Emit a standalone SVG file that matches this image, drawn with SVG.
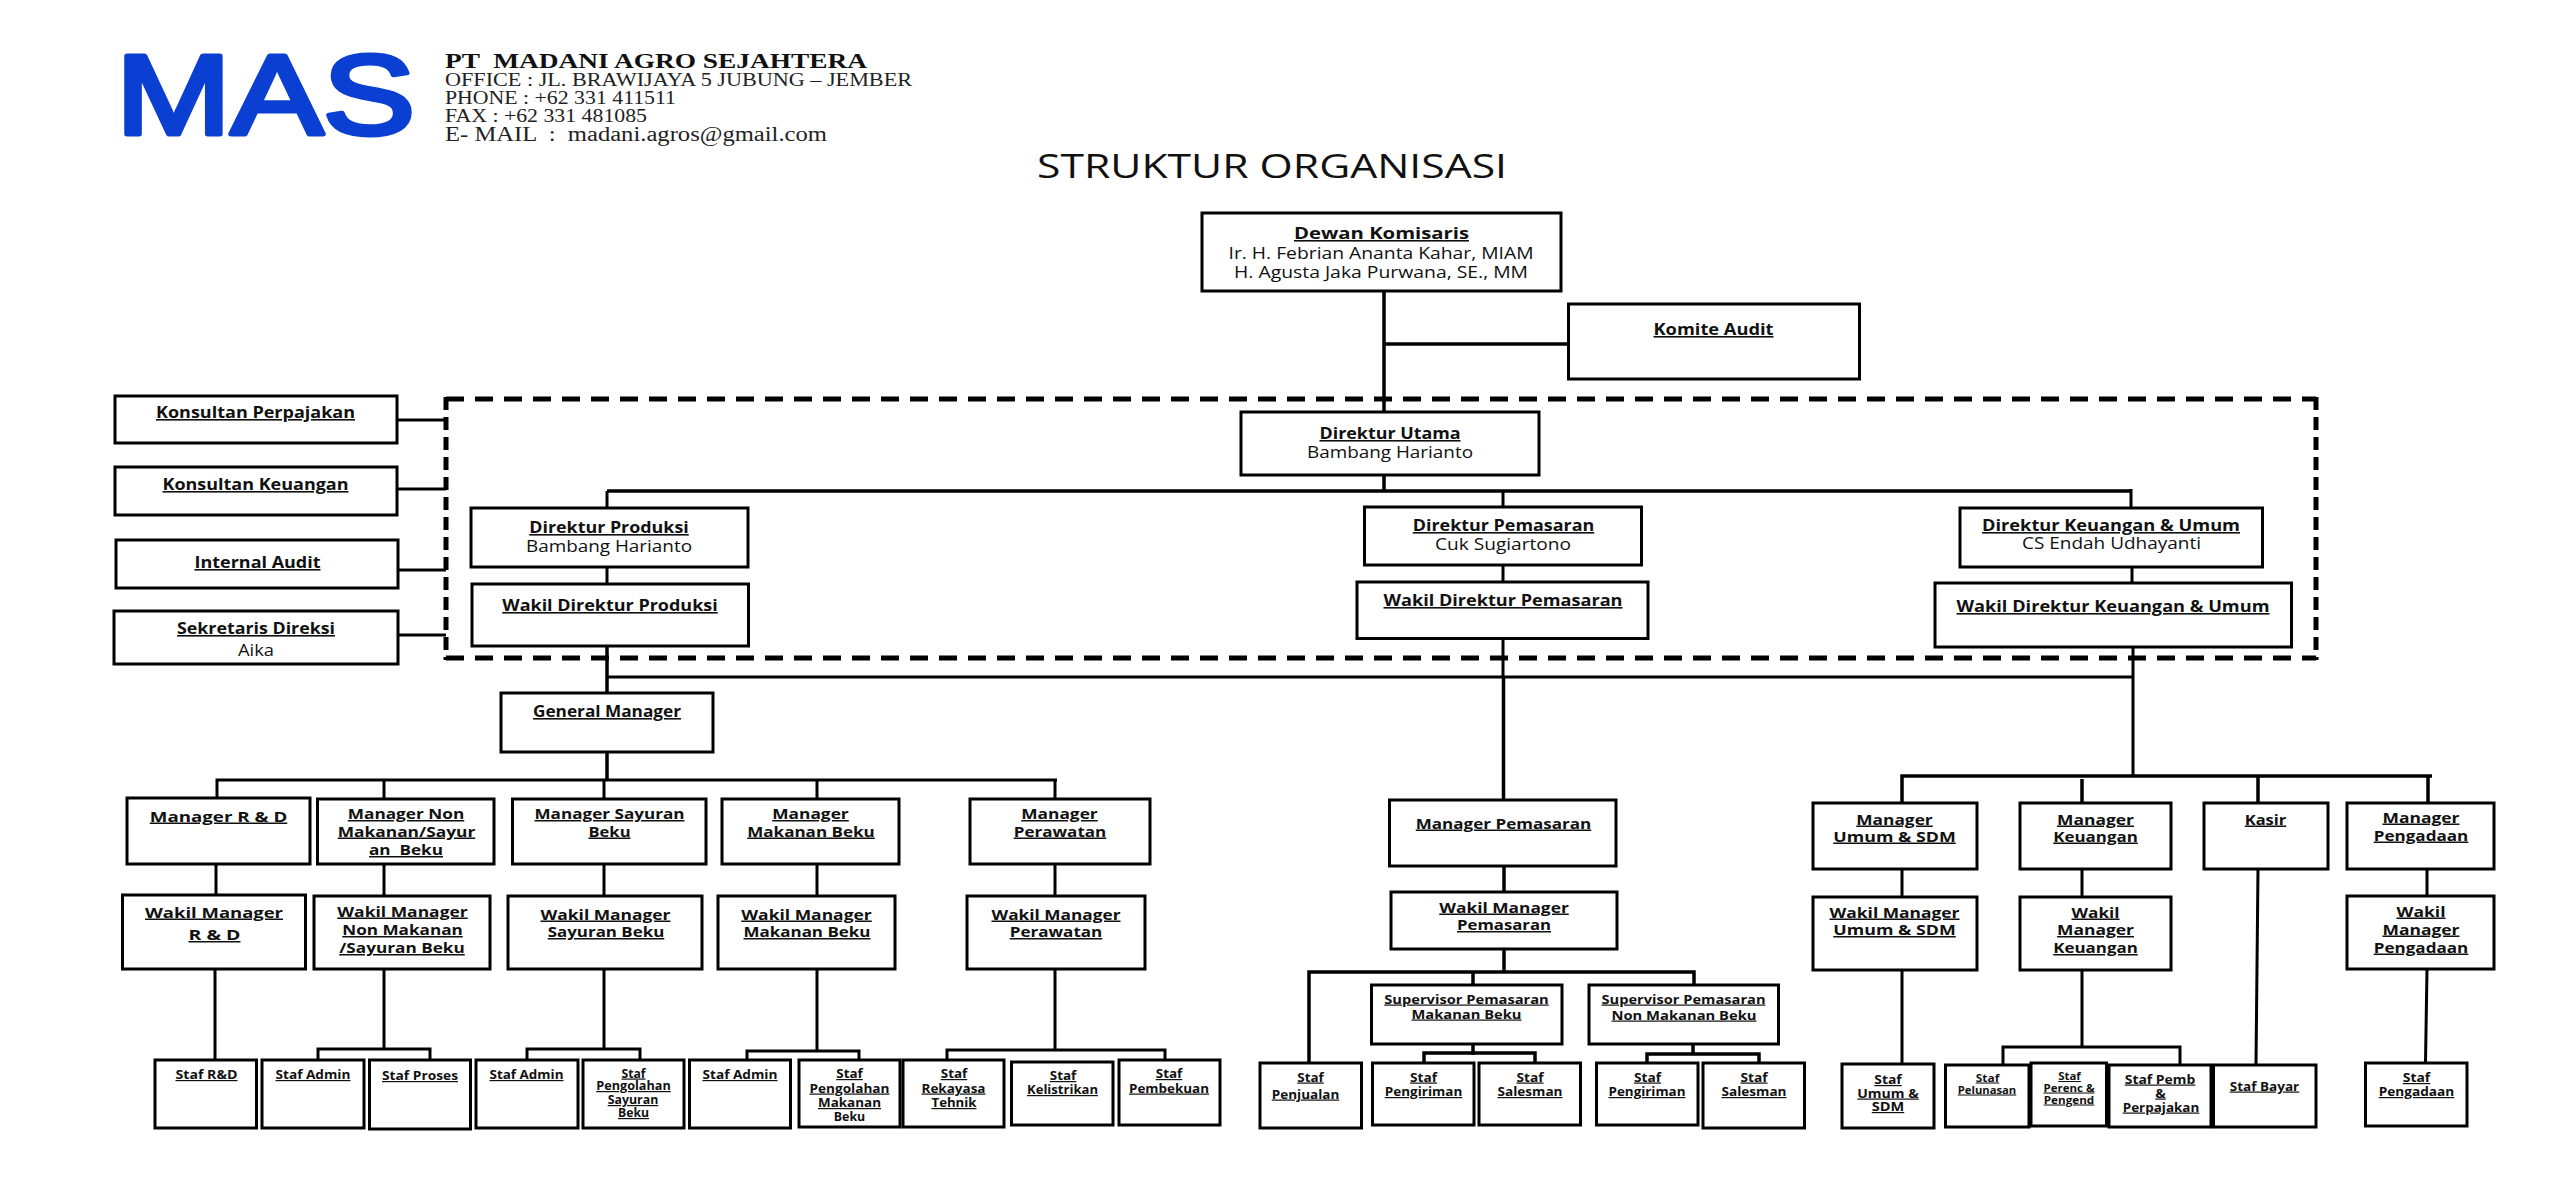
<svg xmlns="http://www.w3.org/2000/svg" width="2560" height="1189" viewBox="0 0 2560 1189">
<style>
rect.n{fill:#fff;stroke:#000;stroke-width:3}
#connectors path{fill:none;stroke:#000;stroke-width:3}
#connectors path.k{stroke-width:3.500}
#frame path{fill:none;stroke:#000;stroke-width:5}
text{font-family:"Open Sans","Noto Sans",sans-serif;fill:#111;text-anchor:middle;white-space:pre}
.a{font-size:16px;font-weight:700;text-decoration:underline}
.m{font-size:15px;font-weight:700;text-decoration:underline}
.s{font-size:12px;font-weight:700;text-decoration:underline}
.x{font-size:10.500px;font-weight:700;text-decoration:underline}
.r{font-size:16px}
.q{font-size:12px;font-weight:700}
.hd{font-family:"Liberation Serif",serif;text-anchor:start;font-size:18px;fill:#222}
.hb{font-family:"Liberation Serif",serif;text-anchor:start;font-size:21px;font-weight:700;fill:#111}
.ttl{font-size:33px;fill:#111}
.logo{font-family:"Liberation Sans",sans-serif;font-size:113px;font-weight:400;fill:#0a3fd2;stroke:#0a3fd2;stroke-width:5;stroke-linejoin:round;text-anchor:start}
</style>
<rect width="2560" height="1189" fill="#fff"/>
<g id="header">
<text class="logo" x="116" y="134" textLength="299" lengthAdjust="spacingAndGlyphs">MAS</text>
<text class="hb" x="445" y="68" textLength="422" lengthAdjust="spacingAndGlyphs">PT  MADANI AGRO SEJAHTERA</text>
<text class="hd" x="445" y="86" textLength="467" lengthAdjust="spacingAndGlyphs">OFFICE : JL. BRAWIJAYA 5 JUBUNG – JEMBER</text>
<text class="hd" x="445" y="104" textLength="231" lengthAdjust="spacingAndGlyphs">PHONE : +62 331 411511</text>
<text class="hd" x="445" y="122" textLength="202" lengthAdjust="spacingAndGlyphs">FAX : +62 331 481085</text>
<text class="hd" x="445" y="141" textLength="382" lengthAdjust="spacingAndGlyphs" style="font-size:20px">E- MAIL  :  madani.agros@gmail.com</text>
<text class="ttl" x="1272" y="178" textLength="470" lengthAdjust="spacingAndGlyphs">STRUKTUR ORGANISASI</text>
</g>
<g id="frame">
<path d="M446 399H2316M446 658H2316" stroke-dasharray="18 11"/>
<path d="M446 397V660M2316 397V660" stroke-dasharray="13 7"/>
</g>
<g id="connectors">
<path class="k" d="M1384 291V411M1384 344H1569"/>
<path d="M398 420H446M398 489H446M398 570H446M398 635H446"/>
<path class="k" d="M1384 474V492M607 491H2131"/>
<path d="M607 491V508M1503 491V507M2131 489V508"/>
<path d="M607 567V584M1503 565V582M2132 567V583"/>
<path class="k" d="M607 646V692M607 752V780"/>
<path d="M1503 638V677M2133 647V776M607 677H2133"/>
<path class="k" d="M1503.500 677V800M1504 866V892M1504 949V972M1309 1063V972H1694V985M1473 972V985"/>
<path class="k" d="M1473 1044V1055M1424 1063V1053H1535V1063M1693 1044V1054M1647 1063V1054H1759V1063"/>
<path d="M217 797V780H1057M384 780V799M604 780V799M817 780V799M1055 780V799"/>
<path d="M216 864V895M215 969V1060M384 864V896M604 864V896M817 864V896M1055 864V896"/>
<path d="M384 969V1049M604 969V1049M817 969V1051M1055 969V1050"/>
<path d="M318 1060V1049H430V1060M527 1060V1049H640V1060M747 1060V1051H859V1060M947 1060V1050H1165V1060"/>
<path class="k" d="M1902 803V776H2432M2082 779V803M2258 776V803M2428 776V803"/>
<path d="M1902 869V897M1902 970V1064M2082 869V897M2082 970V1048M2003 1065V1047H2180V1065"/>
<path d="M2258 869L2256 1064M2427 869V896M2427 969L2425.500 1063"/>
</g>
<g id="konsultan-perpajakan"><rect class="n" x="115" y="396" width="282" height="47"/><text class="a" x="255.500" y="418" textLength="199" lengthAdjust="spacingAndGlyphs">Konsultan Perpajakan</text></g>
<g id="konsultan-keuangan"><rect class="n" x="115" y="467" width="282" height="48"/><text class="a" x="255.500" y="490" textLength="186" lengthAdjust="spacingAndGlyphs">Konsultan Keuangan</text></g>
<g id="internal-audit"><rect class="n" x="116" y="540" width="282" height="48"/><text class="a" x="257.500" y="568" textLength="126" lengthAdjust="spacingAndGlyphs">Internal Audit</text></g>
<g id="sekretaris"><rect class="n" x="114" y="611" width="284" height="53"/><text class="a" x="256" y="634" textLength="158" lengthAdjust="spacingAndGlyphs">Sekretaris Direksi</text><text class="r" x="256" y="656" textLength="36" lengthAdjust="spacingAndGlyphs">Aika</text></g>
<g id="dewan"><rect class="n" x="1202" y="213" width="359" height="78"/><text class="a" x="1381.500" y="239" textLength="175" lengthAdjust="spacingAndGlyphs">Dewan Komisaris</text><text class="r" x="1381" y="259" textLength="305" lengthAdjust="spacingAndGlyphs">Ir. H. Febrian Ananta Kahar, MIAM</text><text class="r" x="1381" y="278" textLength="294" lengthAdjust="spacingAndGlyphs">H. Agusta Jaka Purwana, SE., MM</text></g>
<g id="komite"><rect class="n" x="1568.500" y="304" width="291" height="75"/><text class="a" x="1713.500" y="335" textLength="120" lengthAdjust="spacingAndGlyphs">Komite Audit</text></g>
<g id="dirut"><rect class="n" x="1241" y="412" width="298" height="63"/><text class="a" x="1390" y="439" textLength="141" lengthAdjust="spacingAndGlyphs">Direktur Utama</text><text class="r" x="1390" y="458" textLength="166" lengthAdjust="spacingAndGlyphs">Bambang Harianto</text></g>
<g id="dir-produksi"><rect class="n" x="471" y="508" width="277" height="59"/><text class="a" x="609" y="533" textLength="159.500" lengthAdjust="spacingAndGlyphs">Direktur Produksi</text><text class="r" x="609" y="552" textLength="166" lengthAdjust="spacingAndGlyphs">Bambang Harianto</text></g>
<g id="wadir-produksi"><rect class="n" x="472" y="584" width="276.500" height="62"/><text class="a" x="610" y="611" textLength="215.500" lengthAdjust="spacingAndGlyphs">Wakil Direktur Produksi</text></g>
<g id="dir-pemasaran"><rect class="n" x="1364.500" y="507" width="277" height="58"/><text class="a" x="1503.500" y="531" textLength="181.500" lengthAdjust="spacingAndGlyphs">Direktur Pemasaran</text><text class="r" x="1503" y="550" textLength="136" lengthAdjust="spacingAndGlyphs">Cuk Sugiartono</text></g>
<g id="wadir-pemasaran"><rect class="n" x="1357" y="582" width="291" height="56.500"/><text class="a" x="1503" y="606" textLength="239" lengthAdjust="spacingAndGlyphs">Wakil Direktur Pemasaran</text></g>
<g id="dir-keuangan"><rect class="n" x="1960" y="508" width="302.500" height="59"/><text class="a" x="2111" y="531" textLength="258" lengthAdjust="spacingAndGlyphs">Direktur Keuangan &amp; Umum</text><text class="r" x="2111.500" y="549" textLength="179" lengthAdjust="spacingAndGlyphs">CS Endah Udhayanti</text></g>
<g id="wadir-keuangan"><rect class="n" x="1935" y="583" width="356.500" height="64"/><text class="a" x="2113" y="612" textLength="313" lengthAdjust="spacingAndGlyphs">Wakil Direktur Keuangan &amp; Umum</text></g>
<g id="gm"><rect class="n" x="501" y="693" width="212" height="59"/><text class="a" x="607" y="717" textLength="148" lengthAdjust="spacingAndGlyphs">General Manager</text></g>
<g id="mgr-rd"><rect class="n" x="127" y="798" width="183" height="66"/><text class="m" x="218.500" y="821.500" textLength="137.500" lengthAdjust="spacingAndGlyphs">Manager R &amp; D</text></g>
<g id="mgr-non"><rect class="n" x="317.500" y="799" width="176.500" height="65"/><text class="m" x="406" y="819" textLength="116.500" lengthAdjust="spacingAndGlyphs">Manager Non</text><text class="m" x="406.500" y="836.500" textLength="137.500" lengthAdjust="spacingAndGlyphs">Makanan/Sayur</text><text class="m" x="406" y="855" textLength="74" lengthAdjust="spacingAndGlyphs">an  Beku</text></g>
<g id="mgr-sayuran"><rect class="n" x="512.500" y="799" width="193.500" height="65"/><text class="m" x="609.500" y="819" textLength="150" lengthAdjust="spacingAndGlyphs">Manager Sayuran</text><text class="m" x="609.500" y="836.500" textLength="42" lengthAdjust="spacingAndGlyphs">Beku</text></g>
<g id="mgr-makanan"><rect class="n" x="722" y="799" width="177" height="65"/><text class="m" x="810.500" y="819" textLength="76.500" lengthAdjust="spacingAndGlyphs">Manager</text><text class="m" x="811" y="836.500" textLength="127.500" lengthAdjust="spacingAndGlyphs">Makanan Beku</text></g>
<g id="mgr-perawatan"><rect class="n" x="970" y="799" width="180" height="65"/><text class="m" x="1059.500" y="819" textLength="76.500" lengthAdjust="spacingAndGlyphs">Manager</text><text class="m" x="1060" y="836.500" textLength="92.500" lengthAdjust="spacingAndGlyphs">Perawatan</text></g>
<g id="wm-rd"><rect class="n" x="122.500" y="895" width="183" height="74"/><text class="m" x="214" y="917.500" textLength="138" lengthAdjust="spacingAndGlyphs">Wakil Manager</text><text class="m" x="214.500" y="940" textLength="52" lengthAdjust="spacingAndGlyphs">R &amp; D</text></g>
<g id="wm-non"><rect class="n" x="314" y="896" width="176" height="73"/><text class="m" x="402.500" y="916.500" textLength="130.500" lengthAdjust="spacingAndGlyphs">Wakil Manager</text><text class="m" x="402.500" y="935" textLength="120.500" lengthAdjust="spacingAndGlyphs">Non Makanan</text><text class="m" x="402" y="953" textLength="125.500" lengthAdjust="spacingAndGlyphs">/Sayuran Beku</text></g>
<g id="wm-sayuran"><rect class="n" x="508" y="896" width="194" height="73"/><text class="m" x="605.500" y="919.500" textLength="130" lengthAdjust="spacingAndGlyphs">Wakil Manager</text><text class="m" x="606" y="937" textLength="116.500" lengthAdjust="spacingAndGlyphs">Sayuran Beku</text></g>
<g id="wm-makanan"><rect class="n" x="718" y="896" width="177" height="73"/><text class="m" x="806.500" y="919.500" textLength="130.500" lengthAdjust="spacingAndGlyphs">Wakil Manager</text><text class="m" x="807" y="937" textLength="127" lengthAdjust="spacingAndGlyphs">Makanan Beku</text></g>
<g id="wm-perawatan"><rect class="n" x="967" y="896" width="178" height="73"/><text class="m" x="1056" y="919.500" textLength="129" lengthAdjust="spacingAndGlyphs">Wakil Manager</text><text class="m" x="1056" y="937" textLength="92.500" lengthAdjust="spacingAndGlyphs">Perawatan</text></g>
<g id="staf-rd"><rect class="n" x="155" y="1060" width="101.500" height="68"/><text class="s" x="206.500" y="1079" textLength="62" lengthAdjust="spacingAndGlyphs">Staf R&amp;D</text></g>
<g id="staf-admin-1"><rect class="n" x="262" y="1060" width="102" height="68"/><text class="s" x="313" y="1079" textLength="75" lengthAdjust="spacingAndGlyphs">Staf Admin</text></g>
<g id="staf-proses"><rect class="n" x="369.500" y="1060" width="101" height="69"/><text class="s" x="420" y="1080" textLength="76" lengthAdjust="spacingAndGlyphs">Staf Proses</text></g>
<g id="staf-admin-2"><rect class="n" x="476" y="1060" width="102" height="68"/><text class="s" x="526.500" y="1079" textLength="74" lengthAdjust="spacingAndGlyphs">Staf Admin</text></g>
<g id="staf-olah-sayur"><rect class="n" x="583" y="1060" width="101" height="68"/><text class="s" x="633.500" y="1077.500" textLength="24" lengthAdjust="spacingAndGlyphs">Staf</text><text class="s" x="633.500" y="1090" textLength="74.500" lengthAdjust="spacingAndGlyphs">Pengolahan</text><text class="s" x="633" y="1104" textLength="50.500" lengthAdjust="spacingAndGlyphs">Sayuran</text><text class="s" x="633.500" y="1117" textLength="31" lengthAdjust="spacingAndGlyphs">Beku</text></g>
<g id="staf-admin-3"><rect class="n" x="689.500" y="1060" width="101" height="68"/><text class="s" x="740" y="1079" textLength="75" lengthAdjust="spacingAndGlyphs">Staf Admin</text></g>
<g id="staf-olah-makan"><rect class="n" x="799" y="1060" width="101" height="67"/><text class="s" x="849.500" y="1078" textLength="26.500" lengthAdjust="spacingAndGlyphs">Staf</text><text class="s" x="849.500" y="1092.500" textLength="80" lengthAdjust="spacingAndGlyphs">Pengolahan</text><text class="s" x="849.500" y="1107" textLength="63" lengthAdjust="spacingAndGlyphs">Makanan</text><text class="q" x="849.500" y="1121" textLength="31.500" lengthAdjust="spacingAndGlyphs">Beku</text></g>
<g id="staf-rekayasa"><rect class="n" x="903" y="1060" width="101" height="67"/><text class="s" x="954" y="1078" textLength="26.500" lengthAdjust="spacingAndGlyphs">Staf</text><text class="s" x="953.500" y="1092.500" textLength="64" lengthAdjust="spacingAndGlyphs">Rekayasa</text><text class="s" x="954" y="1107" textLength="45" lengthAdjust="spacingAndGlyphs">Tehnik</text></g>
<g id="staf-listrik"><rect class="n" x="1011.500" y="1062" width="101.500" height="63"/><text class="s" x="1063" y="1080" textLength="26.500" lengthAdjust="spacingAndGlyphs">Staf</text><text class="s" x="1062.500" y="1094" textLength="71" lengthAdjust="spacingAndGlyphs">Kelistrikan</text></g>
<g id="staf-beku"><rect class="n" x="1119" y="1060" width="101" height="65"/><text class="s" x="1169" y="1078" textLength="26.500" lengthAdjust="spacingAndGlyphs">Staf</text><text class="s" x="1169" y="1092.500" textLength="80" lengthAdjust="spacingAndGlyphs">Pembekuan</text></g>
<g id="mgr-pemasaran"><rect class="n" x="1389.500" y="800" width="226.500" height="66"/><text class="m" x="1503.500" y="828.500" textLength="175.500" lengthAdjust="spacingAndGlyphs">Manager Pemasaran</text></g>
<g id="wm-pemasaran"><rect class="n" x="1391" y="892" width="226" height="57"/><text class="m" x="1504" y="912.500" textLength="129.500" lengthAdjust="spacingAndGlyphs">Wakil Manager</text><text class="m" x="1504" y="930" textLength="94" lengthAdjust="spacingAndGlyphs">Pemasaran</text></g>
<g id="spv-makan"><rect class="n" x="1371.500" y="985" width="190.500" height="59"/><text class="s" x="1466.500" y="1003.500" textLength="164.500" lengthAdjust="spacingAndGlyphs">Supervisor Pemasaran</text><text class="s" x="1466.500" y="1018.500" textLength="110" lengthAdjust="spacingAndGlyphs">Makanan Beku</text></g>
<g id="spv-non"><rect class="n" x="1589" y="985" width="189.500" height="59"/><text class="s" x="1683.500" y="1003.500" textLength="164" lengthAdjust="spacingAndGlyphs">Supervisor Pemasaran</text><text class="s" x="1684" y="1019.500" textLength="145" lengthAdjust="spacingAndGlyphs">Non Makanan Beku</text></g>
<g id="staf-jual"><rect class="n" x="1260" y="1063" width="101.500" height="65"/><text class="s" x="1310.500" y="1081.500" textLength="26.500" lengthAdjust="spacingAndGlyphs">Staf</text><text class="s" x="1305.500" y="1098.500" textLength="67.500" lengthAdjust="spacingAndGlyphs">Penjualan</text></g>
<g id="staf-kirim-1"><rect class="n" x="1372.500" y="1063" width="101.500" height="62"/><text class="s" x="1423.500" y="1081.500" textLength="27" lengthAdjust="spacingAndGlyphs">Staf</text><text class="s" x="1423.500" y="1096" textLength="77.500" lengthAdjust="spacingAndGlyphs">Pengiriman</text></g>
<g id="staf-sales-1"><rect class="n" x="1479" y="1063" width="101.500" height="62"/><text class="s" x="1530" y="1081.500" textLength="27" lengthAdjust="spacingAndGlyphs">Staf</text><text class="s" x="1530" y="1096" textLength="65" lengthAdjust="spacingAndGlyphs">Salesman</text></g>
<g id="staf-kirim-2"><rect class="n" x="1596.500" y="1063" width="101.500" height="62"/><text class="s" x="1647.500" y="1081.500" textLength="27" lengthAdjust="spacingAndGlyphs">Staf</text><text class="s" x="1647" y="1096" textLength="77" lengthAdjust="spacingAndGlyphs">Pengiriman</text></g>
<g id="staf-sales-2"><rect class="n" x="1703" y="1063" width="101.500" height="65"/><text class="s" x="1754" y="1081.500" textLength="27" lengthAdjust="spacingAndGlyphs">Staf</text><text class="s" x="1754" y="1096" textLength="65" lengthAdjust="spacingAndGlyphs">Salesman</text></g>
<g id="mgr-umum"><rect class="n" x="1813" y="803" width="164" height="66"/><text class="m" x="1894.500" y="824.500" textLength="76.500" lengthAdjust="spacingAndGlyphs">Manager</text><text class="m" x="1894.500" y="841.500" textLength="122.500" lengthAdjust="spacingAndGlyphs">Umum &amp; SDM</text></g>
<g id="mgr-keuangan"><rect class="n" x="2020" y="803" width="151" height="66"/><text class="m" x="2095.500" y="824.500" textLength="77" lengthAdjust="spacingAndGlyphs">Manager</text><text class="m" x="2095.500" y="841.500" textLength="84.500" lengthAdjust="spacingAndGlyphs">Keuangan</text></g>
<g id="kasir"><rect class="n" x="2204" y="803" width="124" height="66"/><text class="m" x="2265.500" y="824.500" textLength="41.500" lengthAdjust="spacingAndGlyphs">Kasir</text></g>
<g id="mgr-pengadaan"><rect class="n" x="2347" y="803" width="147" height="66"/><text class="m" x="2421" y="822.500" textLength="77" lengthAdjust="spacingAndGlyphs">Manager</text><text class="m" x="2421" y="840.500" textLength="94.500" lengthAdjust="spacingAndGlyphs">Pengadaan</text></g>
<g id="wm-umum"><rect class="n" x="1813" y="897" width="164" height="73"/><text class="m" x="1894.500" y="917.500" textLength="130" lengthAdjust="spacingAndGlyphs">Wakil Manager</text><text class="m" x="1894.500" y="935" textLength="122.500" lengthAdjust="spacingAndGlyphs">Umum &amp; SDM</text></g>
<g id="wm-keuangan"><rect class="n" x="2020" y="897" width="151" height="73"/><text class="m" x="2095.500" y="917.500" textLength="48" lengthAdjust="spacingAndGlyphs">Wakil</text><text class="m" x="2095.500" y="935" textLength="77" lengthAdjust="spacingAndGlyphs">Manager</text><text class="m" x="2095.500" y="953" textLength="84.500" lengthAdjust="spacingAndGlyphs">Keuangan</text></g>
<g id="wm-pengadaan"><rect class="n" x="2347" y="896" width="147" height="73"/><text class="m" x="2421" y="916.500" textLength="49" lengthAdjust="spacingAndGlyphs">Wakil</text><text class="m" x="2421" y="934.500" textLength="77" lengthAdjust="spacingAndGlyphs">Manager</text><text class="m" x="2421" y="952.500" textLength="94.500" lengthAdjust="spacingAndGlyphs">Pengadaan</text></g>
<g id="staf-umum"><rect class="n" x="1842" y="1064" width="92" height="64"/><text class="s" x="1888" y="1084" textLength="27.500" lengthAdjust="spacingAndGlyphs">Staf</text><text class="s" x="1888" y="1097.500" textLength="61.500" lengthAdjust="spacingAndGlyphs">Umum &amp;</text><text class="s" x="1888" y="1111" textLength="32.500" lengthAdjust="spacingAndGlyphs">SDM</text></g>
<g id="staf-lunas"><rect class="n" x="1945.500" y="1065" width="83.500" height="62"/><text class="x" x="1987.500" y="1081.500" textLength="23.500" lengthAdjust="spacingAndGlyphs">Staf</text><text class="x" x="1987" y="1093.500" textLength="58.500" lengthAdjust="spacingAndGlyphs">Pelunasan</text></g>
<g id="staf-perenc"><rect class="n" x="2031" y="1063" width="75.500" height="63"/><text class="x" x="2069.500" y="1080" textLength="22.500" lengthAdjust="spacingAndGlyphs">Staf</text><text class="x" x="2069" y="1091.500" textLength="51" lengthAdjust="spacingAndGlyphs">Perenc &amp;</text><text class="x" x="2069" y="1103.500" textLength="50.500" lengthAdjust="spacingAndGlyphs">Pengend</text></g>
<g id="staf-pemb"><rect class="n" x="2109" y="1065" width="102" height="62"/><text class="s" x="2160" y="1083.500" textLength="70.500" lengthAdjust="spacingAndGlyphs">Staf Pemb</text><text class="s" x="2160.500" y="1097.500" textLength="10.500" lengthAdjust="spacingAndGlyphs">&amp;</text><text class="s" x="2161" y="1111.500" textLength="76.500" lengthAdjust="spacingAndGlyphs">Perpajakan</text></g>
<g id="staf-bayar"><rect class="n" x="2213.500" y="1065" width="102.500" height="62"/><text class="s" x="2264.500" y="1090.500" textLength="69.500" lengthAdjust="spacingAndGlyphs">Staf Bayar</text></g>
<g id="staf-pengadaan"><rect class="n" x="2365.500" y="1063" width="101.500" height="63"/><text class="s" x="2416.500" y="1082" textLength="27.500" lengthAdjust="spacingAndGlyphs">Staf</text><text class="s" x="2416.500" y="1096" textLength="75.500" lengthAdjust="spacingAndGlyphs">Pengadaan</text></g>
</svg>
